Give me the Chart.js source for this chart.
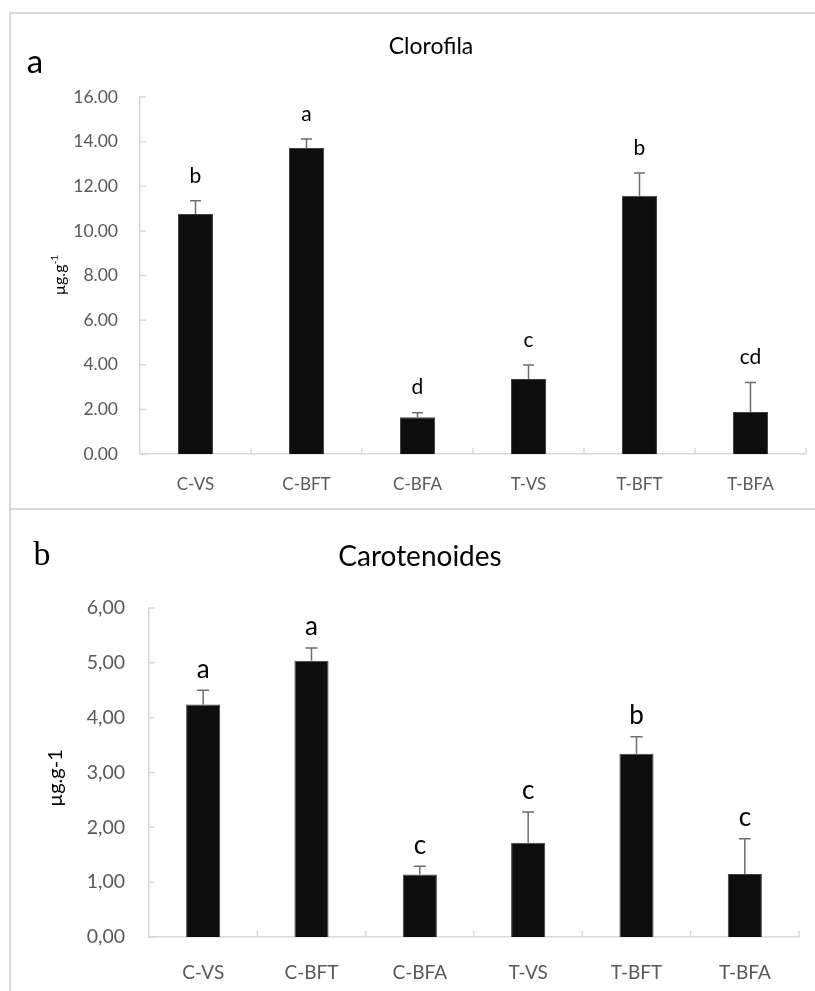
<!DOCTYPE html>
<html>
<head>
<meta charset="utf-8">
<script src="https://cdn.jsdelivr.net/npm/chart.js@4.4.0/dist/chart.umd.min.js"></script>
<style>
  body { margin: 0; background: #fff; }
  #page { position: relative; width: 815px; height: 991px; overflow: hidden; background: #fff; font-family: Lato, sans-serif; }
  canvas { position: absolute; left: 0; }
  .frame { position: absolute; border-color: #d9d9d9; border-style: solid; border-width: 0; }
  .txt { position: absolute; transform: translate(-50%, -50%); white-space: nowrap; color: #000; }
  .ytitle { position: absolute; transform: translate(-50%, -50%) rotate(-90deg); white-space: nowrap; color: #000; }
  sup { font-size: 0.65em; }
</style>
</head>
<body>
<div id="page">
  <div class="frame" style="left:9px; top:12px; width:810px; height:494px; border-top-width:2px; border-left-width:2px; border-bottom-width:2px;"></div>
  <div class="frame" style="left:9px; top:508px; width:810px; height:490px; border-left-width:2px;"></div>

  <canvas id="chartA" width="815" height="508" style="top:0"></canvas>
  <canvas id="chartB" width="815" height="481" style="top:510px"></canvas>

  <div class="txt" style="left:35px; top:60px; font-size:33px;">a</div>
  <div class="txt" style="left:431px; top:45px; font-size:23px;">Clorofila</div>
  <div class="ytitle" style="left:58px; top:275px; font-size:16px;">µg.g<sup>-1</sup></div>

  <div class="txt" style="left:42px; top:554px; font-size:34px; font-family:'Liberation Serif', serif;">b</div>
  <div class="txt" style="left:420px; top:555px; font-size:28px;">Carotenoides</div>
  <div class="ytitle" style="left:54px; top:778px; font-size:20px;">µg.g-1</div>
</div>
<script>
// data
const categories = ['C-VS', 'C-BFT', 'C-BFA', 'T-VS', 'T-BFT', 'T-BFA'];

const clorofila = [10.76, 13.71, 1.65, 3.36, 11.57, 1.88];
const clorofilaErr = [0.59, 0.41, 0.2, 0.63, 1.02, 1.32];
const clorofilaLetters = ['b', 'a', 'd', 'c', 'b', 'cd'];
const clorofilaTicks = [0, 2, 4, 6, 8, 10, 12, 14, 16];

const carotenoides = [4.24, 5.04, 1.14, 1.72, 3.34, 1.15];
const carotenoidesErr = [0.26, 0.23, 0.15, 0.56, 0.31, 0.64];
const carotenoidesLetters = ['a', 'a', 'c', 'c', 'b', 'c'];
const carotenoidesTicks = [0, 1, 2, 3, 4, 5, 6];

const axisGray = '#d9d9d9';
const labelGray = '#595959';

// error bars, letters and inner tick marks
const extras = {
  id: 'extras',
  afterDatasetsDraw(chart, args, opts) {
    const { ctx, scales } = chart;
    const xs = scales.x, ys = scales.y;
    const meta = chart.getDatasetMeta(0);
    const vals = chart.data.datasets[0].data;
    ctx.save();
    meta.data.forEach((bar, i) => {
      const top = ys.getPixelForValue(vals[i] + opts.err[i]);
      ctx.strokeStyle = '#6e6e6e';
      ctx.lineWidth = 1.5;
      ctx.beginPath();
      ctx.moveTo(bar.x, bar.y);
      ctx.lineTo(bar.x, top);
      ctx.moveTo(bar.x - opts.cap, top);
      ctx.lineTo(bar.x + opts.cap, top);
      ctx.stroke();

      ctx.fillStyle = '#000';
      ctx.font = opts.letterSize + 'px Lato';
      ctx.textAlign = 'center';
      ctx.textBaseline = 'middle';
      ctx.fillText(opts.letters[i], bar.x, top - opts.letterGap);
    });

    // inner ticks
    ctx.strokeStyle = axisGray;
    ctx.lineWidth = 1.5;
    ctx.beginPath();
    opts.ticks.forEach(v => {
      const y = ys.getPixelForValue(v);
      ctx.moveTo(xs.left, y);
      ctx.lineTo(xs.left + 6, y);
    });
    const n = categories.length;
    for (let i = 1; i <= n; i++) {
      const x = xs.left + (xs.right - xs.left) * i / n;
      ctx.moveTo(x, ys.bottom);
      ctx.lineTo(x, ys.bottom - 6);
    }
    ctx.stroke();
    ctx.restore();
  }
};

function makeChart(id, values, o) {
  return new Chart(document.getElementById(id), {
    type: 'bar',
    data: {
      labels: categories,
      datasets: [{
        data: values,
        backgroundColor: '#0d0d0d',
        borderColor: '#404040',
        borderWidth: 1,
        barPercentage: 0.315,
        categoryPercentage: 1
      }]
    },
    options: {
      responsive: false,
      animation: false,
      layout: { padding: { top: o.top, right: o.right, left: 0, bottom: 0 } },
      plugins: {
        legend: { display: false },
        tooltip: { enabled: false },
        extras: o.extras
      },
      scales: {
        x: {
          grid: { display: false },
          border: { display: true, color: axisGray, width: 1.5 },
          ticks: { color: labelGray, font: { family: 'Lato', size: o.xFont }, padding: o.xPad, maxRotation: 0 },
          afterFit: s => { s.height = o.xHeight; }
        },
        y: {
          min: 0,
          max: o.max,
          grid: { display: false },
          border: { display: true, color: axisGray, width: 1.5 },
          ticks: {
            stepSize: o.step,
            color: labelGray,
            font: { family: 'Lato', size: o.yFont },
            padding: o.yPad,
            callback: o.fmt
          },
          afterFit: s => { s.width = o.yWidth; }
        }
      }
    },
    plugins: [extras]
  });
}

makeChart('chartA', clorofila, {
  top: 97, right: 9, max: 16, step: 2,
  xFont: 17, xPad: 12, xHeight: 54,
  yFont: 17.5, yPad: 14, yWidth: 140,
  fmt: v => v.toFixed(2),
  extras: { err: clorofilaErr, letters: clorofilaLetters, ticks: clorofilaTicks, cap: 5.5, letterSize: 21, letterGap: 25 }
});

makeChart('chartB', carotenoides, {
  top: 98, right: 16, max: 6, step: 1,
  xFont: 19, xPad: 16, xHeight: 54,
  yFont: 19.5, yPad: 16, yWidth: 149,
  fmt: v => v.toFixed(2).replace('.', ','),
  extras: { err: carotenoidesErr, letters: carotenoidesLetters, ticks: carotenoidesTicks, cap: 6, letterSize: 26, letterGap: 21 }
});
</script>
</body>
</html>
